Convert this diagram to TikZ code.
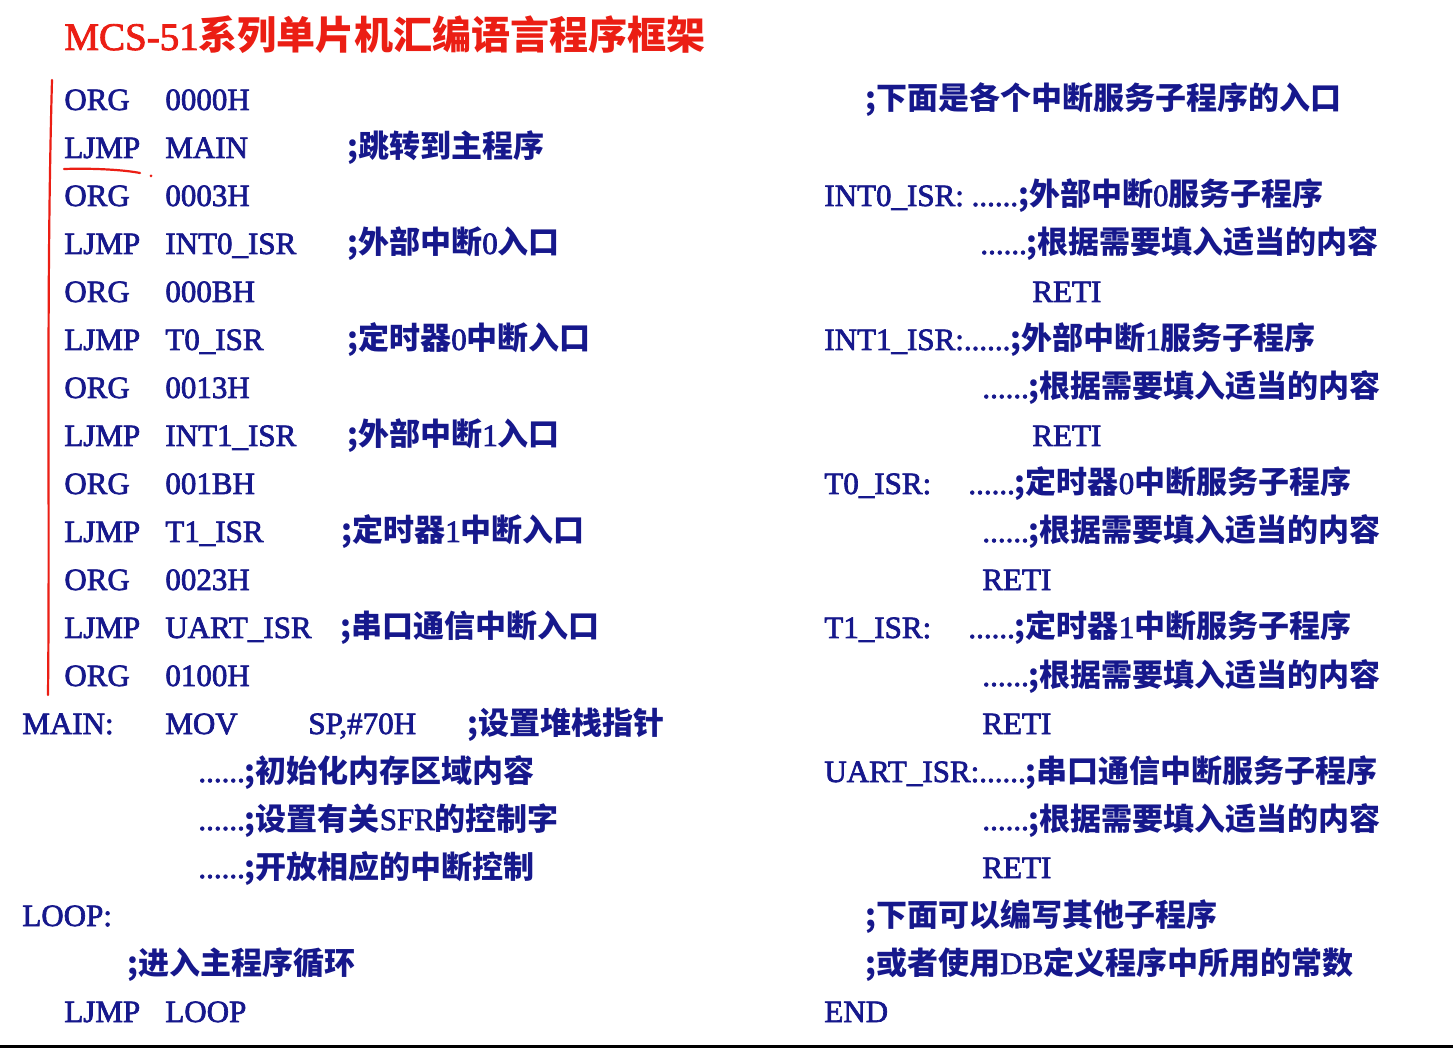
\documentclass[tikz,border=0pt]{standalone}
\usepackage{fontspec}
\setmainfont{Liberation Serif}[BoldFont={Liberation Serif},BoldFeatures={FakeBold=2.2}]
\newfontfamily\cjk{Noto Sans CJK SC}
\newfontfamily\cjkb{Noto Sans CJK SC Bold}
\definecolor{codeblue}{RGB}{22,24,140}
\definecolor{titlered}{RGB}{235,30,20}
\newcommand{\C}[1]{{\cjk #1}}
\tikzset{t/.style={anchor=base west,inner sep=0,text=codeblue,font=\fontsize{15.5pt}{18pt}\selectfont\bfseries}}
\newcommand{\T}[4]{\node[t] (#1) at (#2,#3+11) {#4};}
\begin{document}
\begin{tikzpicture}[x=0.5pt,y=-0.5pt]
\useasboundingbox (0,0) rectangle (1453,1048);
\fill[white] (0,0) rectangle (1453,1048);
\draw[black,line width=1.5pt] (0,1046) -- (1453,1046);
\node[anchor=base west,inner sep=0,text=titlered,font=\fontsize{19.5pt}{22pt}\selectfont\bfseries] (title) at (64,50) {MCS-51{\cjkb 系列单片机汇编语言程序框架}};
% left column
\T{a1}{64}{99}{ORG}\T{b1}{165}{99}{0000H}
\T{a2}{64}{147}{LJMP}\T{b2}{165}{147}{MAIN}\T{c2}{347}{147}{\C{;跳转到主程序}}
\T{a3}{64}{195}{ORG}\T{b3}{165}{195}{0003H}
\T{a4}{64}{243}{LJMP}\T{b4}{165}{243}{INT0\_ISR}\T{c4}{347}{243}{\C{;外部中断}0\C{入口}}
\T{a5}{64}{291}{ORG}\T{b5}{165}{291}{000BH}
\T{a6}{64}{339}{LJMP}\T{b6}{165}{339}{T0\_ISR}\T{c6}{347}{339}{\C{;定时器}0\C{中断入口}}
\T{a7}{64}{387}{ORG}\T{b7}{165}{387}{0013H}
\T{a8}{64}{435}{LJMP}\T{b8}{165}{435}{INT1\_ISR}\T{c8}{347}{435}{\C{;外部中断}1\C{入口}}
\T{a9}{64}{483}{ORG}\T{b9}{165}{483}{001BH}
\T{a10}{64}{531}{LJMP}\T{b10}{165}{531}{T1\_ISR}\T{c10}{341}{531}{\C{;定时器}1\C{中断入口}}
\T{a11}{64}{579}{ORG}\T{b11}{165}{579}{0023H}
\T{a12}{64}{627}{LJMP}\T{b12}{165}{627}{UART\_ISR}\T{c12}{340}{627}{\C{;串口通信中断入口}}
\T{a13}{64}{675}{ORG}\T{b13}{165}{675}{0100H}
\T{a14}{22}{723}{MAIN:}\T{b14}{165}{723}{MOV}\T{c14}{308}{723}{SP,\#70H}\T{d14}{467}{723}{\C{;设置堆栈指针}}
\T{a15}{198}{771}{......\C{;初始化内存区域内容}}
\T{a16}{198}{819}{......\C{;设置有关}SFR\C{的控制字}}
\T{a17}{198}{867}{......\C{;开放相应的中断控制}}
\T{a18}{22}{915}{LOOP:}
\T{a19}{127}{963}{\C{;进入主程序循环}}
\T{a20}{64}{1011}{LJMP}\T{b20}{165}{1011}{LOOP}
% right column
\T{r1}{865}{99}{\C{;下面是各个中断服务子程序的入口}}
\T{r3}{824}{195}{INT0\_ISR: ......\C{;外部中断}0\C{服务子程序}}
\T{r4}{980}{243}{......\C{;根据需要填入适当的内容}}
\T{r5}{1032}{291}{RETI}
\T{r6}{824}{339}{INT1\_ISR:......\C{;外部中断}1\C{服务子程序}}
\T{r7}{982}{387}{......\C{;根据需要填入适当的内容}}
\T{r8}{1032}{435}{RETI}
\T{r9}{824}{483}{T0\_ISR:}\T{s9}{968}{483}{......\C{;定时器}0\C{中断服务子程序}}
\T{r10}{982}{531}{......\C{;根据需要填入适当的内容}}
\T{r11}{982}{579}{RETI}
\T{r12}{824}{627}{T1\_ISR:}\T{s12}{968}{627}{......\C{;定时器}1\C{中断服务子程序}}
\T{r13}{982}{675}{......\C{;根据需要填入适当的内容}}
\T{r14}{982}{723}{RETI}
\T{r15}{824}{771}{UART\_ISR:......\C{;串口通信中断服务子程序}}
\T{r16}{982}{819}{......\C{;根据需要填入适当的内容}}
\T{r17}{982}{867}{RETI}
\T{r18}{865}{915}{\C{;下面可以编写其他子程序}}
\T{r19}{865}{963}{\C{;或者使用}DB\C{定义程序中所用的常数}}
\T{r20}{824}{1011}{END}
% red annotations
\draw[titlered,line width=1.1pt,line cap=round] (52,80) .. controls (46,300) and (50,500) .. (48,695);
\draw[titlered,line width=1.1pt,line cap=round] (64,169) .. controls (95,168) and (125,170) .. (140,173);
\fill[titlered] (151,176) circle (1.5);
\end{tikzpicture}
\end{document}
